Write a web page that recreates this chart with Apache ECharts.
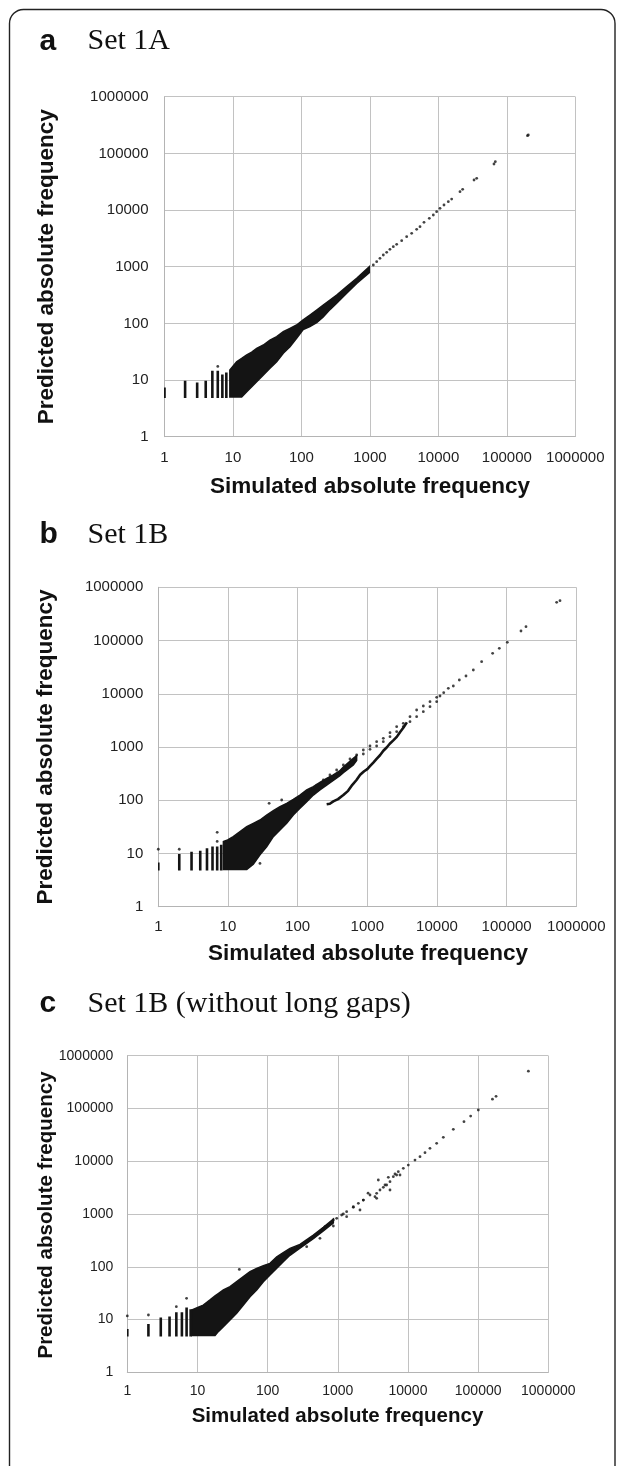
<!DOCTYPE html>
<html>
<head>
<meta charset="utf-8">
<script src="https://cdn.jsdelivr.net/npm/echarts@6/dist/echarts.min.js"></script>
<style>
html,body{margin:0;padding:0;background:#fff;}
#c{width:625px;height:1466px;}
</style>
</head>
<body>
<div id="c"></div>
<script>
// ---------- data ----------
const tickLabels = ['1','10','100','1000','10000','100000','1000000'];
const panelLetters = ['a','b','c'];
const panelTitles = ['Set 1A','Set 1B','Set 1B (without long gaps)'];
const xTitle = 'Simulated absolute frequency';
const yTitle = 'Predicted absolute frequency';

// integer-x columns [x, yLow, yHigh]
const aColumns = [[1,5,7.1],[2,5,9.3],[3,5,8.7],[4,5,9.3],[5,5,14],[6,5,14],[7,5,12],[8,5,13]];
// dense cloud envelope [x, yLow, yHigh]
const aBand = [[9,5,15],[11.3,5,21],[13.4,5,24],[15.9,6.2,27.7],[18.8,7.6,31],[22.2,9.3,36.3],[27.8,12.3,41.5],[34.7,16.1,50.8],[43.5,21,58.2],[54.3,29.6,71.3],[68,38.7,81.8],[85,54.5,93.5],[106,78,115],[133,88,140],[167,103,172],[208,130,211],[261,175,258],[327,226,316],[458,339,444],[641,508,624],[980,783,1000]];
// individual points [x, y]
const aPoints = [[1122,1071],[1256,1227],[1403,1405],[1570,1608],[1758,1792],[1963,2024],[2197,2256],[2460,2481],[2911,2879],[3443,3388],[4074,3879],[4819,4563],[5395,5084],[6166,6067],[7379,7131],[8440,8168],[9441,9355],[10567,10706],[12083,12268],[13968,14035],[15640,15637],[20701,21070],[22641,23175],[33180,33860],[36290,36240],[64920,64900],[67920,71330],[200000,205000],[206000,210900],[6,17.4]];

const bColumns = [[1,5,6.5],[2,5,9.4],[3,5,10.3],[4,5,10.8],[5,5,12],[6,5,13],[7,5,13],[8,5,14]];
const bBand = [[8.6,5,16.7],[9.9,5,17.9],[11.9,5,20.7],[14.9,5,25.7],[18.6,5,31.9],[23.1,6.3,36.8],[28.8,9.4,42.5],[35.9,13.4,52.8],[44.8,20.7,63.7],[55.8,27.6,75.7],[69.6,36.8,87.5],[86.7,52.8,104],[108,70.5,125],[135,94,156],[168,125,180],[209,156,217],[261,193,258],[325,235,298],[400,285,355],[453,330,420],[630,459,614],[703,560,690]];
const bUpperRow = [[121,125],[150,156],[188,193],[234,240],[291,298],[363,370],[453,459],[564,595],[703,708],[877,879],[1093,1045],[1362,1259],[1698,1455],[2117,1859],[2639,2410],[3289,2787],[4100,3716],[5109,4955],[6371,5888],[7943,7114],[9901,8573]];
const bMainRow = [[877,739],[1093,904],[1362,1045],[1698,1259],[2117,1565],[2639,1941],[3289,2410],[4100,2992],[5109,3716],[6371,4615],[7943,5725],[9901,7114]];
const bLowerBranch = [[261,84],[290,86],[325,95],[380,105],[453,125],[530,150],[610,195],[700,240],[790,300],[900,350],[1000,385],[1100,440],[1220,510],[1360,600],[1521,700],[1700,850],[1896,980],[2100,1150],[2362,1330],[2650,1550],[2944,1900],[3289,2300],[3700,2900]];
const bTail = [[11050,9083],[12500,10500],[14550,12650],[17170,13990],[20940,18140],[26100,21580],[33270,27980],[43770,40110],[62950,57520],[78510,71400],[102300,92630],[160700,151100],[189600,182400],[522300,522400],[583500,561400]];
const bOutliers = [[1,12],[2,12],[7,16.8],[7,25],[39,87.5],[59,101],[28.8,6.5]];

const cColumns = [[1,5,6.3],[2,5,7.9],[3,5,10.5],[4,5,10.9],[5,5,13.1],[6,5,13.1],[7,5,16.2],[8,5,15]];
const cBand = [[8.3,5,15.2],[10.1,5,17],[12.1,5,18.8],[15.1,5,23.5],[17.8,5,28],[19.8,5.9,31],[23.4,7.3,36.3],[29.1,9.8,42],[36.2,13.1,52.2],[45.1,18.8,64.9],[56.1,27.1,80.7],[69.8,36.3,93.4],[86.9,52.2,105],[108,69.8,116],[135,93.4,155],[167,125,185],[208,165,223],[289,225,265],[448,340,400],[622,480,560],[864,680,800]];
const cPoints = [[187,155],[289,240],[448,361],[622,535],[864,769],[1199,1000],[1665,1377],[2311,1840],[3580,2463],[4968,3542],[6900,5480],
  [360,240],[557,346],[864,592],[1337,889],[2071,1190],[3580,1982],[5544,2851],
  [360,299],[448,372],[557,462],[657,575],[818,665],[964,827],[1135,957],[1337,1106],[1665,1337],[1963,1592],[2311,1840],[2877,2289],[3389,2129],[3992,2851],[4706,3542],[5544,4096],[6185,5095],[7285,6340],[8582,7330],[10110,8472],[12590,10540],[14840,12190],[17480,14520],[20590,17540],[25640,21820],[31910,28360],[44300,40180],[62840,56100],[78220,71770],[100600,93480],[160000,150000],[180000,170000],[520000,510000],
  [3780,4406],[4455,3200],[5250,4950],[6530,5725],[7700,5480],[2700,2480],
  [1,11.7],[2,12.2],[5,17.5],[7,25.2],[39.5,89]];

// ---------- layout ----------
const grids = [
  {left:164.5, top:96.7, width:410.8, height:340, labelMargin:13.5, yMargin:16, tickFont:15},
  {left:158.3, top:587.3, width:418, height:319.4, labelMargin:12.5, yMargin:15, tickFont:15},
  {left:127.3, top:1055.7, width:421, height:316.6, labelMargin:12, yMargin:14, tickFont:14}
];
const panelTitleY = [41.5, 535.2, 1004.2];
const axisTitleFont = [22.5, 22.5, 20.5];
const xTitlePos = [[370,486.7],[368,954],[337.5,1416.7]];
const yTitlePos = [[46.5,266.7],[46,747],[46,1215]];

const panels = [
  {cols:aColumns, band:aBand, pts:[aPoints], line:null},
  {cols:bColumns, band:bBand, pts:[bUpperRow,bMainRow,bTail,bOutliers], line:bLowerBranch},
  {cols:cColumns, band:cBand, pts:[cPoints], line:null}
];

const INK = '#141414';
const chart = echarts.init(document.getElementById('c'), null, {renderer:'canvas'});

const fmt = v => {
  const e = Math.round(Math.log10(v));
  return tickLabels[e] !== undefined ? tickLabels[e] : String(v);
};

const xAxis = [], yAxis = [], series = [];
grids.forEach((g, i) => {
  const common = {
    gridIndex:i, type:'log', logBase:10, min:1, max:1000000, splitNumber:6,
    axisLine:{show:true, lineStyle:{color:'#b4b4b4', width:1}},
    axisTick:{show:false},
    splitLine:{show:true, lineStyle:{color:'#c2c2c2', width:1}},
    minorSplitLine:{show:false}
  };
  const lab = {formatter:fmt, fontSize:g.tickFont, color:'#222', fontFamily:'"Liberation Sans", Arial, sans-serif', showMinLabel:true, showMaxLabel:true, hideOverlap:false};
  xAxis.push(Object.assign({}, common, {axisLabel:Object.assign({}, lab, {margin:g.labelMargin})}));
  yAxis.push(Object.assign({}, common, {axisLabel:Object.assign({}, lab, {margin:g.yMargin})}));
  const p = panels[i];
  series.push({
    type:'custom', xAxisIndex:i, yAxisIndex:i, data:p.band, clip:true, silent:true,
    renderItem:(params, api) => {
      if (params.dataIndex !== 0) return null;
      const pts = [];
      p.band.forEach(r => pts.push(api.coord([r[0], r[1]])));
      for (let k = p.band.length - 1; k >= 0; k--) pts.push(api.coord([p.band[k][0], p.band[k][2]]));
      return {type:'polygon', shape:{points:pts}, style:{fill:INK, stroke:INK, lineWidth:1.5}};
    }
  });
  series.push({
    type:'custom', xAxisIndex:i, yAxisIndex:i, data:p.cols, clip:true, silent:true,
    renderItem:(params, api) => {
      const lo = api.coord([api.value(0), api.value(1)]);
      const hi = api.coord([api.value(0), api.value(2)]);
      return {type:'rect', shape:{x:lo[0]-1.3, y:hi[1]-1, width:2.6, height:lo[1]-hi[1]+2}, style:{fill:INK}};
    }
  });
  if (p.line) {
    const ln = p.line;
    series.push({
      type:'custom', xAxisIndex:i, yAxisIndex:i, data:ln, clip:true, silent:true,
      renderItem:(params, api) => {
        if (params.dataIndex !== 0) return null;
        return {type:'polyline', shape:{points:ln.map(r => api.coord(r))}, style:{stroke:INK, lineWidth:2.6, fill:null, lineJoin:'round'}};
      }
    });
  }
  p.pts.forEach(arr => {
    series.push({
      type:'scatter', xAxisIndex:i, yAxisIndex:i, data:arr, symbol:'circle', symbolSize:2.8,
      itemStyle:{color:INK}, silent:true, clip:true
    });
  });
});

const graphic = [
  {type:'rect', shape:{x:9.5, y:9.5, width:605.5, height:1490, r:14}, style:{fill:'none', stroke:'#222', lineWidth:1.4}, silent:true}
];
for (let i = 0; i < 3; i++) {
  const f = 'bold ' + axisTitleFont[i] + 'px "Liberation Sans", Arial, sans-serif';
  graphic.push({type:'text', x:39.5, y:panelTitleY[i], style:{text:panelLetters[i], font:'bold 30px "Liberation Sans", Arial, sans-serif', fill:'#111', verticalAlign:'middle', align:'left'}});
  graphic.push({type:'text', x:87.5, y:panelTitleY[i], style:{text:panelTitles[i], font:'30px "Liberation Serif", "Times New Roman", serif', fill:'#111', verticalAlign:'middle', align:'left'}});
  graphic.push({type:'text', x:xTitlePos[i][0], y:xTitlePos[i][1], style:{text:xTitle, font:f, fill:'#111', verticalAlign:'middle', align:'center'}});
  graphic.push({type:'text', x:yTitlePos[i][0], y:yTitlePos[i][1], rotation:Math.PI/2, style:{text:yTitle, font:f, fill:'#111', verticalAlign:'middle', align:'center'}});
}

chart.setOption({
  animation:false,
  backgroundColor:'#fff',
  grid: grids.map(g => ({left:g.left, top:g.top, width:g.width, height:g.height, show:false, containLabel:false, outerBoundsMode:'none'})),
  xAxis, yAxis, series, graphic
});
</script>
</body>
</html>
